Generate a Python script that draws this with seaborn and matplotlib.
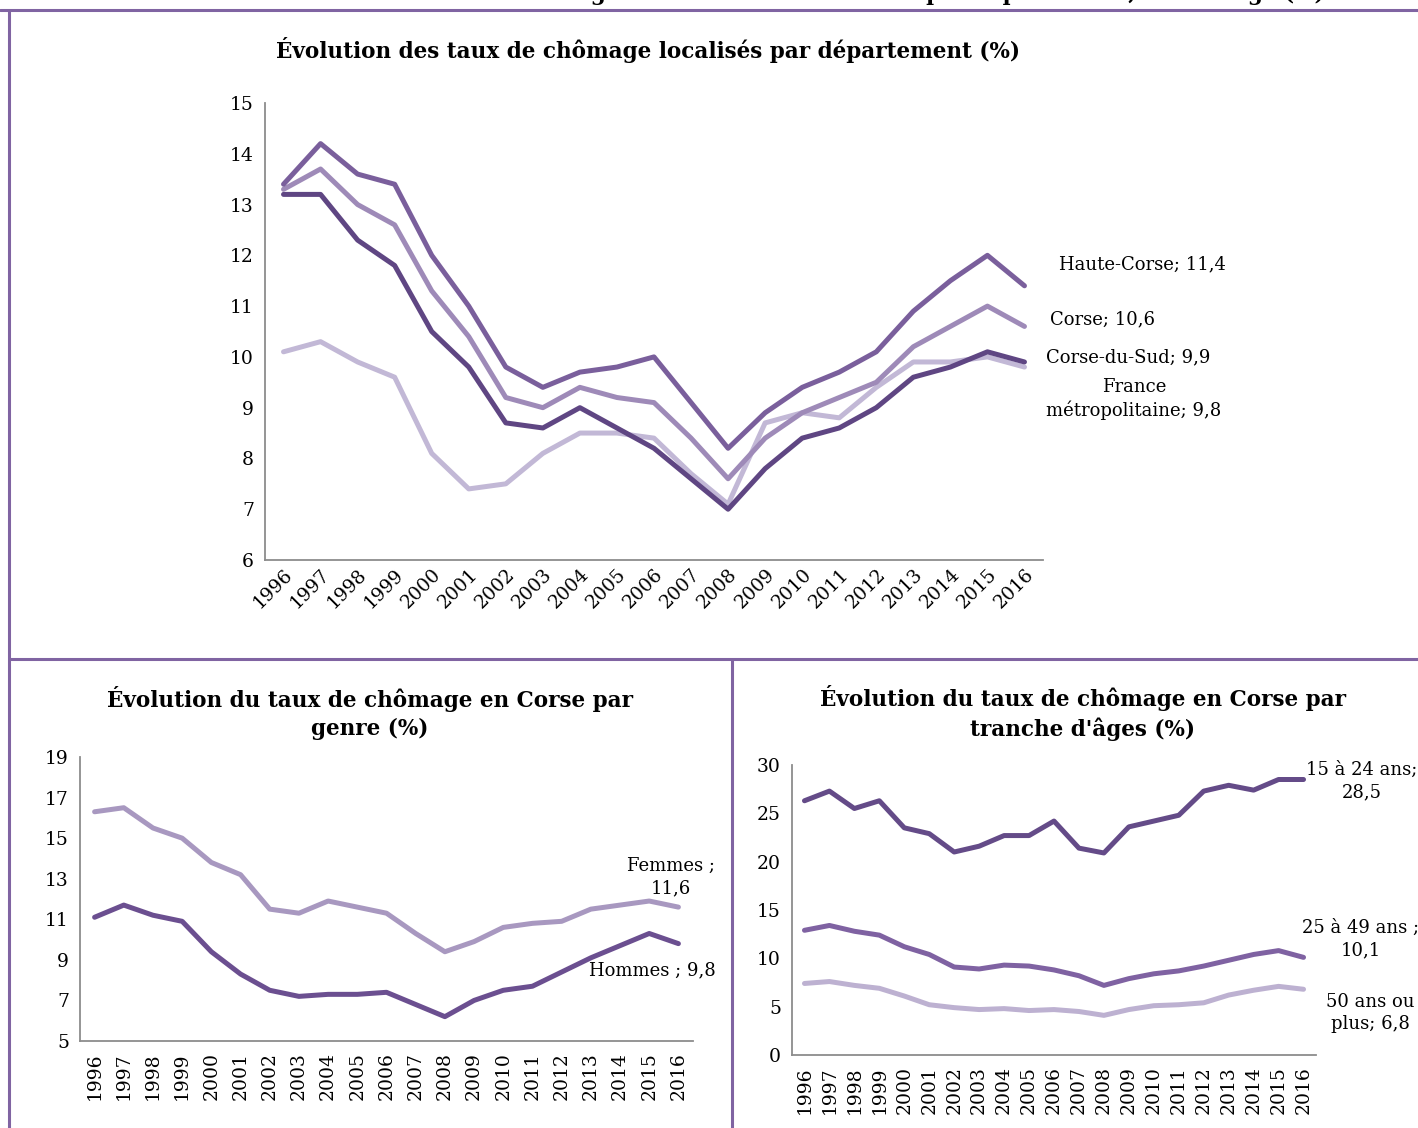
import pandas as pd
import numpy as np
import matplotlib
matplotlib.use("Agg")
import matplotlib.pyplot as plt
from matplotlib.lines import Line2D
import seaborn as sns

years = [str(y) for y in range(1996, 2017)]

# taux de chomage localises par departement
haute_corse = [13.4, 14.2, 13.6, 13.4, 12.0, 11.0, 9.8, 9.4, 9.7, 9.8, 10.0,
               9.1, 8.2, 8.9, 9.4, 9.7, 10.1, 10.9, 11.5, 12.0, 11.4]
corse = [13.3, 13.7, 13.0, 12.6, 11.3, 10.4, 9.2, 9.0, 9.4, 9.2, 9.1,
         8.4, 7.6, 8.4, 8.9, 9.2, 9.5, 10.2, 10.6, 11.0, 10.6]
corse_du_sud = [13.2, 13.2, 12.3, 11.8, 10.5, 9.8, 8.7, 8.6, 9.0, 8.6, 8.2,
                7.6, 7.0, 7.8, 8.4, 8.6, 9.0, 9.6, 9.8, 10.1, 9.9]
france_metro = [10.1, 10.3, 9.9, 9.6, 8.1, 7.4, 7.5, 8.1, 8.5, 8.5, 8.4,
                7.7, 7.1, 8.7, 8.9, 8.8, 9.4, 9.9, 9.9, 10.0, 9.8]

# par genre
femmes = [16.3, 16.5, 15.5, 15.0, 13.8, 13.2, 11.5, 11.3, 11.9, 11.6, 11.3,
          10.3, 9.4, 9.9, 10.6, 10.8, 10.9, 11.5, 11.7, 11.9, 11.6]
hommes = [11.1, 11.7, 11.2, 10.9, 9.4, 8.3, 7.5, 7.2, 7.3, 7.3, 7.4,
          6.8, 6.2, 7.0, 7.5, 7.7, 8.4, 9.1, 9.7, 10.3, 9.8]

# par tranche d'age
age_15_24 = [26.3, 27.3, 25.5, 26.3, 23.5, 22.9, 21.0, 21.6, 22.7, 22.7, 24.2,
             21.4, 20.9, 23.6, 24.2, 24.8, 27.3, 27.9, 27.4, 28.5, 28.5]
age_25_49 = [12.9, 13.4, 12.8, 12.4, 11.2, 10.4, 9.1, 8.9, 9.3, 9.2, 8.8,
             8.2, 7.2, 7.9, 8.4, 8.7, 9.2, 9.8, 10.4, 10.8, 10.1]
age_50_plus = [7.4, 7.6, 7.2, 6.9, 6.1, 5.2, 4.9, 4.7, 4.8, 4.6, 4.7,
               4.5, 4.1, 4.7, 5.1, 5.2, 5.4, 6.2, 6.7, 7.1, 6.8]


def long_df(series):
    rows = []
    for name, vals in series.items():
        for y, v in zip(years, vals):
            rows.append({"annee": y, "serie": name, "taux": v})
    return pd.DataFrame(rows)


def fr(v):
    return f"{v:.1f}".replace(".", ",")


sns.set_style("white")
plt.rcParams["font.family"] = ["DejaVu Serif"]
plt.rcParams["axes.linewidth"] = 1.3
plt.rcParams["text.color"] = "black"

W, H = 1418, 1128
fig = plt.figure(figsize=(W / 100, H / 100), dpi=100)


def px(x, y):
    return x / W, 1 - y / H


def style_axes(ax, ylim, yticks, rot):
    ax.set_xlim(-0.5, len(years) - 0.5)
    ax.set_ylim(*ylim)
    ax.set_yticks(yticks)
    ax.set_yticklabels([str(t) for t in yticks])
    sns.despine(ax=ax)
    for s in ["left", "bottom"]:
        ax.spines[s].set_color("#8c8c8c")
    ax.tick_params(length=0, labelsize=13.5, colors="black", pad=8)
    ax.set_xticks(range(len(years)))
    if rot == 45:
        ax.set_xticklabels(years, rotation=45, ha="right", rotation_mode="anchor")
    else:
        ax.set_xticklabels(years, rotation=90, fontsize=13.5)
    ax.set_xlabel("")
    ax.set_ylabel("")
    if ax.get_legend():
        ax.get_legend().remove()


lw = 3.6
tsize = 15.5

# --- graphique du haut ---
ax1 = fig.add_axes([265 / W, 1 - 560 / H, (1043 - 265) / W, (560 - 103) / H])
dep = long_df({"Haute-Corse": haute_corse, "Corse": corse,
               "Corse-du-Sud": corse_du_sud, "France métropolitaine": france_metro})
pal1 = {"Haute-Corse": "#7a5f9c", "Corse": "#9e8ab8",
        "Corse-du-Sud": "#5f4683", "France métropolitaine": "#c2b8d6"}
sns.lineplot(data=dep, x="annee", y="taux", hue="serie", palette=pal1,
             hue_order=["France métropolitaine", "Corse-du-Sud", "Corse", "Haute-Corse"],
             linewidth=lw, ax=ax1, sort=False)
style_axes(ax1, (6, 15), list(range(6, 16)), 45)
ax1.tick_params(axis="x", pad=4)
fig.text(*px(648, 50), "Évolution des taux de chômage localisés par département (%)",
         ha="center", va="center", fontsize=tsize, fontweight="bold")
lab = dict(ha="center", va="center", fontsize=13)
fig.text(*px(1142, 264), f"Haute-Corse; {fr(haute_corse[-1])}", **lab)
fig.text(*px(1103, 319), f"Corse; {fr(corse[-1])}", **lab)
fig.text(*px(1128, 357), f"Corse-du-Sud; {fr(corse_du_sud[-1])}", **lab)
fig.text(*px(1134, 399), f"France\nmétropolitaine; {fr(france_metro[-1])}",
         linespacing=1.3, **lab)

# --- par genre ---
ax2 = fig.add_axes([80 / W, 1 - 1041 / H, (693 - 80) / W, (1041 - 757) / H])
gen = long_df({"Femmes": femmes, "Hommes": hommes})
sns.lineplot(data=gen, x="annee", y="taux", hue="serie",
             palette={"Femmes": "#a898c0", "Hommes": "#6b4f90"},
             linewidth=lw, ax=ax2, sort=False)
style_axes(ax2, (5, 19), list(range(5, 20, 2)), 90)
fig.text(*px(370, 713), "Évolution du taux de chômage en Corse par\ngenre (%)",
         ha="center", va="center", fontsize=tsize, fontweight="bold", linespacing=1.3)
fig.text(*px(671, 877), f"Femmes ;\n{fr(femmes[-1])}", linespacing=1.3, **lab)
fig.text(*px(652, 970), f"Hommes ; {fr(hommes[-1])}", **lab)

# --- par tranche d'age ---
ax3 = fig.add_axes([792 / W, 1 - 1055 / H, (1316 - 792) / W, (1055 - 765) / H])
age = long_df({"15 à 24 ans": age_15_24, "25 à 49 ans": age_25_49,
               "50 ans ou plus": age_50_plus})
sns.lineplot(data=age, x="annee", y="taux", hue="serie",
             palette={"15 à 24 ans": "#644b88", "25 à 49 ans": "#7f62a2",
                      "50 ans ou plus": "#bdb1d1"},
             linewidth=lw, ax=ax3, sort=False)
style_axes(ax3, (0, 30), list(range(0, 31, 5)), 90)
fig.text(*px(1083, 713), "Évolution du taux de chômage en Corse par\ntranche d'âges (%)",
         ha="center", va="center", fontsize=tsize, fontweight="bold", linespacing=1.3)
fig.text(*px(1362, 781), f"15 à 24 ans;\n{fr(age_15_24[-1])}", linespacing=1.3, **lab)
fig.text(*px(1361, 939), f"25 à 49 ans ;\n{fr(age_25_49[-1])}", linespacing=1.3, **lab)
fig.text(*px(1370, 1013), f"50 ans ou\nplus; {fr(age_50_plus[-1])}", linespacing=1.3, **lab)

# en-tete coupe en haut de la page
fig.text(1325 / W, 1.0, "Évolution du taux de chômage en Corse : taux localisés par département, sexe et âge (%)",
         ha="right", va="baseline", fontsize=tsize, fontweight="bold")

# cadres
fc = "#8064a2"
for (x0, y0, x1, y1) in [(0, 10, W, 10), (9, 10, 9, H), (9, 659, W, 659), (732, 659, 732, H)]:
    fig.add_artist(Line2D([x0 / W, x1 / W], [1 - y0 / H, 1 - y1 / H],
                          color=fc, linewidth=2.2, transform=fig.transFigure))

fig.savefig("out.png", dpi=100)
